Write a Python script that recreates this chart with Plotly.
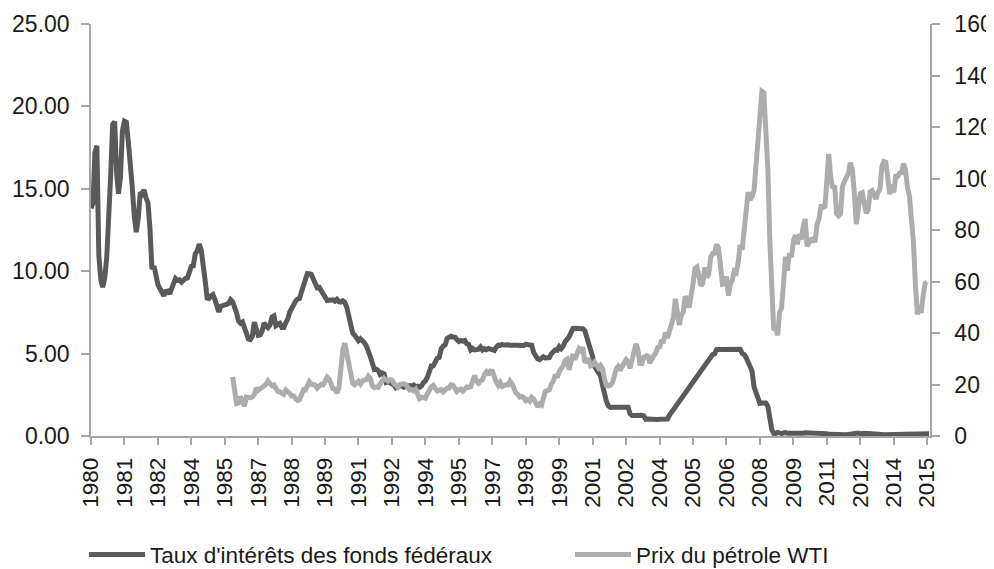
import pandas as pd
import plotly.graph_objects as go

# ---- data ----
fed_start = "1980-01-01"
fed_funds = [
    13.82, 14.13, 17.19, 17.61, 10.98, 9.47, 9.03, 9.61, 10.87, 12.81, 15.85, 18.90,   # 1980
    19.08, 15.93, 14.70, 15.72, 18.52, 19.10, 19.04, 17.82, 15.87, 15.08, 13.31, 12.37,  # 1981
    13.22, 14.78, 14.68, 14.94, 14.45, 14.15, 12.59, 10.12, 10.31, 9.71, 9.20, 8.95,    # 1982
    8.68, 8.51, 8.77, 8.80, 8.63, 8.98, 9.37, 9.56, 9.45, 9.48, 9.34, 9.47,             # 1983
    9.56, 9.59, 9.91, 10.29, 10.32, 11.06, 11.23, 11.64, 11.30, 9.99, 9.43, 8.38,       # 1984
    8.35, 8.50, 8.58, 8.27, 7.97, 7.53, 7.88, 7.90, 7.92, 7.99, 8.05, 8.27,             # 1985
    8.14, 7.86, 7.48, 6.99, 6.85, 6.92, 6.56, 6.17, 5.89, 5.85, 6.04, 6.91,             # 1986
    6.43, 6.10, 6.13, 6.37, 6.85, 6.73, 6.58, 6.73, 7.22, 7.29, 6.69, 6.77,             # 1987
    6.83, 6.58, 6.58, 6.87, 7.09, 7.51, 7.75, 8.01, 8.19, 8.30, 8.35, 8.76,             # 1988
    9.12, 9.36, 9.85, 9.84, 9.81, 9.53, 9.24, 8.99, 9.02, 8.84, 8.55, 8.45,             # 1989
    8.23, 8.24, 8.28, 8.26, 8.18, 8.29, 8.15, 8.13, 8.20, 8.11, 7.81, 7.31,             # 1990
    6.91, 6.25, 6.12, 5.91, 5.78, 5.90, 5.82, 5.66, 5.45, 5.21, 4.81, 4.43,             # 1991
    4.03, 4.06, 3.98, 3.73, 3.82, 3.76, 3.25, 3.30, 3.22, 3.10, 3.09, 2.92,             # 1992
    3.02, 3.03, 3.07, 2.96, 3.00, 3.04, 3.06, 3.03, 3.09, 2.99, 3.02, 2.96,             # 1993
    3.05, 3.25, 3.34, 3.56, 4.01, 4.25, 4.26, 4.47, 4.73, 4.76, 5.29, 5.45,             # 1994
    5.53, 5.92, 5.98, 6.05, 6.01, 6.00, 5.85, 5.74, 5.80, 5.76, 5.80, 5.60,             # 1995
    5.56, 5.22, 5.31, 5.22, 5.24, 5.27, 5.40, 5.22, 5.30, 5.24, 5.31, 5.29,             # 1996
    5.25, 5.19, 5.39, 5.51, 5.50, 5.56, 5.52, 5.54, 5.54, 5.50, 5.52, 5.50,             # 1997
    5.56, 5.51, 5.49, 5.45, 5.49, 5.56, 5.54, 5.55, 5.51, 5.07, 4.83, 4.68,             # 1998
    4.63, 4.76, 4.81, 4.74, 4.74, 4.76, 4.99, 5.07, 5.22, 5.20, 5.42, 5.30,             # 1999
    5.45, 5.73, 5.85, 6.02, 6.27, 6.53, 6.54, 6.50, 6.52, 6.51, 6.51, 6.40,             # 2000
    5.98, 5.49, 5.31, 4.80, 4.21, 3.97, 3.77, 3.65, 3.07, 2.49, 2.09, 1.82,             # 2001
    1.73, 1.74, 1.73, 1.75, 1.75, 1.75, 1.73, 1.74, 1.75, 1.75, 1.34, 1.24,             # 2002
    1.24, 1.26, 1.25, 1.26, 1.26, 1.22, 1.01, 1.03, 1.01, 1.01, 1.00, 0.98,             # 2003
    1.00, 1.01, 1.00, 1.00, 1.00, 1.03, 1.26, 1.43, 1.61, 1.76, 1.93, 2.16,             # 2004
    2.28, 2.50, 2.63, 2.79, 3.00, 3.04, 3.26, 3.50, 3.62, 3.78, 4.00, 4.16,             # 2005
    4.29, 4.49, 4.59, 4.79, 4.94, 4.99, 5.24, 5.25, 5.25, 5.25, 5.25, 5.24,             # 2006
    5.25, 5.26, 5.26, 5.25, 5.25, 5.25, 5.26, 5.02, 4.94, 4.76, 4.49, 4.24,             # 2007
    3.94, 2.98, 2.61, 2.28, 1.98, 2.00, 2.01, 2.00, 1.81, 0.97, 0.39, 0.16,             # 2008
    0.15, 0.22, 0.18, 0.15, 0.18, 0.21, 0.16, 0.16, 0.15, 0.12, 0.12, 0.12,             # 2009
    0.11, 0.13, 0.16, 0.20, 0.20, 0.18, 0.18, 0.19, 0.19, 0.19, 0.19, 0.18,             # 2010
    0.17, 0.16, 0.14, 0.10, 0.09, 0.09, 0.07, 0.10, 0.08, 0.07, 0.08, 0.07,             # 2011
    0.08, 0.10, 0.13, 0.14, 0.16, 0.16, 0.16, 0.13, 0.14, 0.16, 0.16, 0.16,             # 2012
    0.14, 0.15, 0.14, 0.15, 0.11, 0.09, 0.09, 0.08, 0.08, 0.09, 0.08, 0.09,             # 2013
    0.07, 0.07, 0.08, 0.09, 0.09, 0.10, 0.09, 0.09, 0.09, 0.09, 0.09, 0.12,             # 2014
    0.11, 0.11, 0.11, 0.12, 0.12, 0.13, 0.13,                                           # 2015
]

oil_start = "1986-01-01"
wti = [
    22.93, 15.46, 12.61, 12.84, 15.38, 13.43, 11.59, 15.10, 14.87, 14.90, 15.22, 16.11,  # 1986
    18.65, 17.75, 18.30, 18.68, 19.44, 20.07, 21.34, 20.31, 19.53, 19.86, 18.85, 17.28,  # 1987
    17.13, 16.80, 16.20, 17.86, 17.42, 16.53, 15.50, 15.52, 14.54, 13.77, 14.14, 16.38,  # 1988
    18.02, 17.94, 19.48, 21.07, 20.12, 20.05, 19.78, 18.58, 19.59, 20.10, 19.86, 21.10,  # 1989
    22.86, 22.11, 20.39, 18.43, 18.20, 16.70, 18.45, 27.31, 33.51, 36.04, 32.33, 27.28,  # 1990
    25.23, 20.48, 19.90, 20.83, 21.23, 20.19, 21.40, 21.69, 21.89, 23.23, 22.46, 19.50,  # 1991
    18.79, 19.01, 18.92, 20.23, 20.98, 22.39, 21.78, 21.34, 21.88, 21.69, 20.34, 19.41,  # 1992
    19.03, 20.09, 20.32, 20.25, 19.95, 19.09, 17.89, 18.01, 17.50, 18.15, 16.61, 14.52,  # 1993
    15.03, 14.78, 14.68, 16.42, 17.89, 19.06, 19.66, 18.38, 17.45, 17.72, 18.07, 17.16,  # 1994
    18.04, 18.57, 18.54, 19.90, 19.74, 18.45, 17.33, 18.02, 18.23, 17.43, 17.99, 19.03,  # 1995
    18.85, 19.09, 21.33, 23.50, 21.17, 20.42, 21.30, 21.90, 23.97, 24.88, 23.71, 25.23,  # 1996
    25.13, 22.18, 20.97, 19.70, 20.82, 19.26, 19.66, 19.95, 19.80, 21.33, 20.19, 18.33,  # 1997
    16.72, 16.06, 15.12, 15.35, 14.91, 13.72, 14.17, 13.47, 15.03, 14.46, 13.00, 11.35,  # 1998
    12.52, 12.01, 14.68, 17.31, 17.72, 17.92, 20.10, 21.28, 23.80, 22.69, 25.00, 26.10,  # 1999
    27.26, 29.37, 29.84, 25.72, 28.79, 31.82, 29.70, 31.26, 33.88, 33.11, 34.42, 28.44,  # 2000
    29.59, 29.61, 27.25, 27.49, 28.63, 27.60, 26.43, 27.37, 26.20, 22.17, 19.64, 19.39,  # 2001
    19.72, 20.72, 24.53, 26.18, 27.04, 25.52, 26.97, 28.39, 29.66, 28.84, 26.35, 29.46,  # 2002
    32.95, 35.83, 33.51, 28.17, 28.11, 30.66, 30.76, 31.57, 28.31, 30.34, 31.11, 32.13,  # 2003
    34.31, 34.69, 36.74, 36.75, 40.28, 38.03, 40.78, 44.90, 45.94, 53.28, 48.47, 43.15,  # 2004
    46.84, 48.15, 54.19, 52.98, 49.83, 56.35, 59.00, 64.99, 65.59, 62.26, 58.32, 59.41,  # 2005
    65.49, 61.63, 62.69, 69.44, 70.84, 70.95, 74.41, 73.04, 63.80, 58.89, 59.08, 61.96,  # 2006
    54.51, 59.28, 60.44, 63.98, 63.45, 67.49, 74.12, 72.36, 79.92, 85.80, 94.77, 91.69,  # 2007
    92.97, 95.39, 105.45, 112.58, 125.40, 133.88, 133.37, 116.67, 104.11, 76.61, 57.31, 41.12,  # 2008
    41.71, 39.09, 47.94, 49.65, 59.03, 69.64, 64.15, 71.05, 69.41, 75.72, 77.99, 74.47,  # 2009
    78.33, 76.39, 81.20, 84.29, 73.74, 75.34, 76.32, 76.60, 75.24, 81.89, 84.25, 89.15,  # 2010
    89.17, 88.58, 102.86, 109.53, 100.90, 96.26, 97.30, 86.33, 85.52, 86.32, 97.16, 98.56,  # 2011
    100.27, 102.20, 106.16, 103.32, 94.66, 82.30, 87.90, 94.13, 94.51, 89.49, 86.53, 87.86,  # 2012
    94.76, 95.31, 92.94, 92.02, 94.51, 95.77, 104.67, 106.57, 106.29, 100.54, 93.86, 97.63,  # 2013
    94.62, 100.82, 100.80, 102.07, 102.18, 105.79, 103.59, 96.54, 93.21, 84.40, 75.79, 59.29,  # 2014
    47.22, 50.58, 47.82, 54.45, 59.27, 59.82,                                                # 2015
]

tick_labels = ["1980", "1981", "1982", "1984", "1985", "1987", "1988", "1989", "1991",
               "1992", "1994", "1995", "1997", "1998", "1999", "2001", "2002", "2004",
               "2005", "2006", "2008", "2009", "2011", "2012", "2014", "2015"]

name_fed = "Taux d'intérêts des fonds fédéraux"
name_oil = "Prix du pétrole WTI"

# ---- build ----
fed_dates = pd.date_range(fed_start, periods=len(fed_funds), freq="MS")
oil_dates = pd.date_range(oil_start, periods=len(wti), freq="MS")
tick_dates = pd.date_range(fed_start, periods=len(tick_labels), freq="17MS")

FONT = "Liberation Sans, Arial, sans-serif"
AXIS_COL = "#a6a6a6"
TXT = "#1a1a1a"

fig = go.Figure()
fig.add_trace(go.Scatter(x=fed_dates, y=fed_funds, name=name_fed, mode="lines",
                         line=dict(color="#5a5a5a", width=5), yaxis="y",
                         legend="legend"))
fig.add_trace(go.Scatter(x=oil_dates, y=wti, name=name_oil, mode="lines",
                         line=dict(color="#adadad", width=5), yaxis="y2",
                         legend="legend2"))

legend_common = dict(
    orientation="h", xanchor="left", yanchor="middle", y=-0.2888,
    font=dict(size=22.5, family=FONT, color=TXT),
    itemwidth=56, bgcolor="rgba(0,0,0,0)", borderwidth=0,
)

# the page body adds an 8px margin, so the figure starts 8px from the window edge
fig.update_layout(
    width=986, height=561,
    margin=dict(l=83, r=64, t=16, b=133, autoexpand=False),
    paper_bgcolor="white", plot_bgcolor="white",
    font=dict(family=FONT, size=23, color=TXT),
    xaxis=dict(
        type="date", automargin=False,
        range=["1980-01-01", "2015-07-16"],
        tickmode="array", tickvals=tick_dates, ticktext=tick_labels,
        tickangle=-90, tickfont=dict(size=22.5, family=FONT, color=TXT),
        ticks="outside", ticklen=7, tickcolor=AXIS_COL, tickwidth=1.5,
        ticklabelstandoff=4,
        showline=True, linecolor=AXIS_COL, linewidth=1.5,
        showgrid=False, zeroline=False,
    ),
    yaxis=dict(
        automargin=False,
        range=[0, 25], tickmode="linear", tick0=0, dtick=5, tickformat=".2f",
        ticks="outside", ticklen=8, tickcolor=AXIS_COL, tickwidth=1.5,
        ticklabelstandoff=7,
        showline=True, linecolor=AXIS_COL, linewidth=1.5,
        showgrid=False, zeroline=False,
        tickfont=dict(size=23, family=FONT, color=TXT),
    ),
    yaxis2=dict(
        automargin=False,
        range=[0, 160], tickmode="linear", tick0=0, dtick=20,
        overlaying="y", side="right",
        ticks="outside", ticklen=8, tickcolor=AXIS_COL, tickwidth=1.5,
        ticklabelstandoff=10,
        showline=True, linecolor=AXIS_COL, linewidth=1.5,
        showgrid=False, zeroline=False,
        tickfont=dict(size=23, family=FONT, color=TXT),
    ),
    legend=dict(x=-0.0083, **legend_common),
    legend2=dict(x=0.5709, **legend_common),
    showlegend=True,
)

fig.write_html("out.html")
